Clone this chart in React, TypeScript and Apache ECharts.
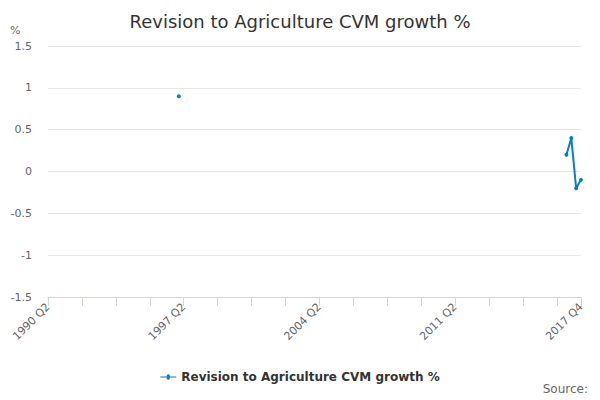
import React, { useEffect, useRef } from "react";
import * as echarts from "echarts";

const TITLE = "Revision to Agriculture CVM growth %";
const SERIES_NAME = "Revision to Agriculture CVM growth %";
const START_YEAR = 1990;
const START_QUARTER = 2;
const END_YEAR = 2017;
const END_QUARTER = 4;

// observed values (quarter label, value)
const obsLabels = ["1997 Q1", "2017 Q1", "2017 Q2", "2017 Q3", "2017 Q4"];
const obsValues = [0.9, 0.2, 0.4, -0.2, -0.1];

function buildCategories(): string[] {
  const out: string[] = [];
  let y = START_YEAR;
  let q = START_QUARTER;
  while (y < END_YEAR || (y === END_YEAR && q <= END_QUARTER)) {
    out.push(`${y} Q${q}`);
    q++;
    if (q > 4) {
      q = 1;
      y++;
    }
  }
  return out;
}

export default function App() {
  const ref = useRef<HTMLDivElement>(null);
  useEffect(() => {
    if (!ref.current) return;
    const chart = echarts.init(ref.current, undefined, { renderer: "svg" });
    const categories = buildCategories();
    const last = categories.length - 1;
    const values: (number | null)[] = categories.map((c) => {
      const i = obsLabels.indexOf(c);
      return i >= 0 ? obsValues[i] : null;
    });
    const font = "DejaVu Sans, sans-serif";
    const blue = "#0a7bc4";
    chart.setOption({
      animation: false,
      textStyle: { fontFamily: font },
      title: {
        text: TITLE,
        left: "center",
        top: 7,
        textStyle: { fontSize: 18, fontWeight: "normal", color: "#333333", fontFamily: font },
      },
      graphic: [
        {
          type: "text",
          left: 10,
          top: 25,
          style: { text: "%", fill: "#666666", font: `11px ${font}` },
        },
        {
          type: "text",
          right: 12,
          top: 383,
          style: { text: "Source:", fill: "#666666", font: `12px ${font}` },
        },
      ],
      legend: {
        top: 366,
        left: "center",
        itemWidth: 16,
        itemHeight: 6,
        itemGap: 10,
        textStyle: { fontSize: 12, fontWeight: "bold", color: "#333333", fontFamily: font },
        data: [
          {
            name: SERIES_NAME,
            icon: "path://M0,2.5 L6.5,2.5 A1.6,1.6 0 1 1 9.5,2.5 L16,2.5 L16,3.5 L9.5,3.5 A1.6,1.6 0 1 1 6.5,3.5 L0,3.5 Z",
          },
        ],
      },
      grid: { left: 48, right: 19, top: 46, bottom: 103 },
      xAxis: {
        type: "category",
        boundaryGap: false,
        data: categories,
        axisLine: { onZero: false, lineStyle: { color: "#ccd6eb" } },
        axisTick: {
          length: 9,
          lineStyle: { color: "#ccd6eb" },
          interval: (i: number) => i % 7 === 0 || i === last,
        },
        axisLabel: {
          rotate: 45,
          color: "#666666",
          fontSize: 11,
          fontFamily: font,
          margin: 8,
          interval: (i: number) => i % 28 === 0 || i === last,
        },
        splitLine: { show: false },
      },
      yAxis: {
        type: "value",
        min: -1.5,
        max: 1.5,
        interval: 0.5,
        axisLine: { show: false },
        axisTick: { show: false },
        axisLabel: {
          color: "#666666",
          fontSize: 11,
          fontFamily: font,
          margin: 16,
        },
        splitLine: { lineStyle: { color: "#e6e6e6" } },
      },
      series: [
        {
          name: SERIES_NAME,
          type: "line",
          data: values,
          connectNulls: false,
          symbol: "circle",
          symbolSize: 4,
          showSymbol: true,
          showAllSymbol: true,
          lineStyle: { width: 2, color: blue },
          itemStyle: { color: blue },
        },
      ],
    });
    return () => chart.dispose();
  }, []);
  return (
    <div
      ref={ref}
      style={{ position: "fixed", left: 0, top: 0, width: 600, height: 400, background: "#ffffff" }}
    />
  );
}
